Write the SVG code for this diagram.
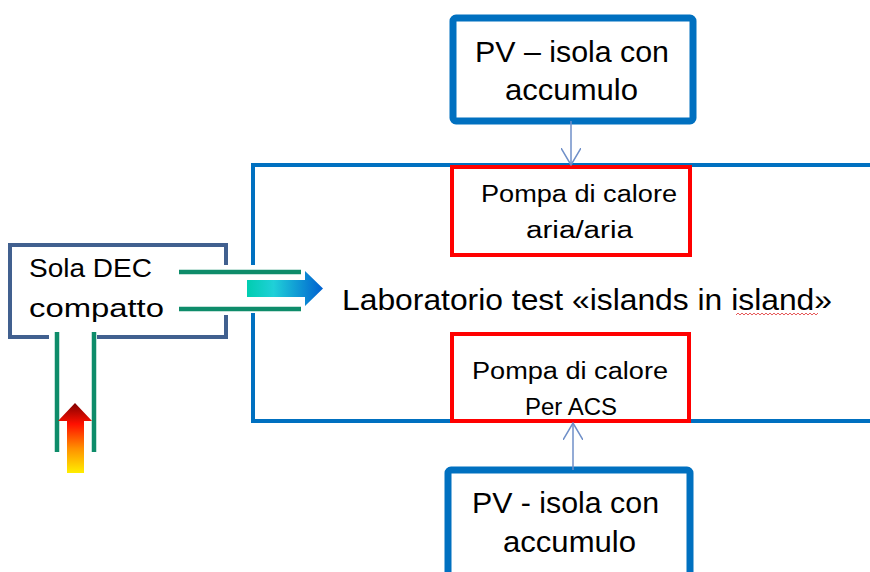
<svg xmlns="http://www.w3.org/2000/svg" width="870" height="572" viewBox="0 0 870 572">
<defs>
<linearGradient id="gBlue" x1="0" y1="0" x2="1" y2="0">
<stop offset="0" stop-color="#00CDB0"/>
<stop offset="0.35" stop-color="#20D0D8"/>
<stop offset="1" stop-color="#0060D0"/>
</linearGradient>
<linearGradient id="gHeat" x1="0" y1="1" x2="0" y2="0">
<stop offset="0" stop-color="#FFEE00"/>
<stop offset="0.35" stop-color="#FF9000"/>
<stop offset="0.7" stop-color="#FF1000"/>
<stop offset="1" stop-color="#800000"/>
</linearGradient>
<marker id="chev" viewBox="0 0 18 20" refX="17" refY="10" markerWidth="18" markerHeight="20" markerUnits="userSpaceOnUse" orient="auto-start-reverse">
<path d="M0,0 L17,10 L0,20" fill="none" stroke="#6F8FC8" stroke-width="1.5"/>
</marker>
</defs>
<style>
.t{font-family:"Liberation Sans",Arial,sans-serif;fill:#000}
.pv{fill:#fff;stroke:#0070C0;stroke-width:7}
.hp{fill:#fff;stroke:#FF0000;stroke-width:4}
.lab{fill:none;stroke:#0070C0;stroke-width:4}
.grn{stroke:#0E8C6A;stroke-width:4.5;fill:none}
.con{stroke:#6F8FC8;stroke-width:1.5;fill:none}
</style>
<rect width="870" height="572" fill="#fff"/>

<g id="lab">
<path class="lab" d="M870,165 L253,165 L253,265 M253,313 L253,421 L870,421"/>
<text class="t" x="342" y="310" font-size="29" textLength="490" lengthAdjust="spacingAndGlyphs">Laboratorio test «islands in island»</text>
<path d="M736,315 l2,-2 l2,2 l2,-2 l2,2 l2,-2 l2,2 l2,-2 l2,2 l2,-2 l2,2 l2,-2 l2,2 l2,-2 l2,2 l2,-2 l2,2 l2,-2 l2,2 l2,-2 l2,2 l2,-2 l2,2 l2,-2 l2,2 l2,-2 l2,2 l2,-2 l2,2 l2,-2 l2,2 l2,-2 l2,2 l2,-2 l2,2 l2,-2 l2,2 l2,-2 l2,2 l2,-2 l2,2 l2,-2" fill="none" stroke="#E03030" stroke-width="0.8"/>
</g>

<g id="pv-top">
<rect class="pv" x="453" y="18" width="240" height="103" rx="3"/>
<text class="t" x="475" y="62" font-size="30" textLength="194" lengthAdjust="spacingAndGlyphs">PV – isola con</text>
<text class="t" x="505" y="100" font-size="30" textLength="133" lengthAdjust="spacingAndGlyphs">accumulo</text>
</g>

<g id="pv-bottom">
<rect class="pv" x="448" y="470" width="242" height="110" rx="3"/>
<text class="t" x="472" y="513" font-size="30" textLength="187" lengthAdjust="spacingAndGlyphs">PV - isola con</text>
<text class="t" x="503" y="552" font-size="30" textLength="133" lengthAdjust="spacingAndGlyphs">accumulo</text>
</g>

<g id="hp-top">
<rect class="hp" x="452" y="167" width="238" height="88"/>
<text class="t" x="481" y="202" font-size="23" textLength="196" lengthAdjust="spacingAndGlyphs">Pompa di calore</text>
<text class="t" x="526" y="238" font-size="23" textLength="107" lengthAdjust="spacingAndGlyphs">aria/aria</text>
</g>

<g id="hp-bottom">
<rect class="hp" x="452" y="334" width="237" height="87"/>
<text class="t" x="472" y="379" font-size="23" textLength="196" lengthAdjust="spacingAndGlyphs">Pompa di calore</text>
<text class="t" x="525" y="415" font-size="23" textLength="92" lengthAdjust="spacingAndGlyphs">Per ACS</text>
</g>

<g id="sola-dec">
<path d="M226,265 L226,245 L10,245 L10,337 L49,337 M97,337 L226,337 L226,315" fill="none" stroke="#41608F" stroke-width="4"/>
<text class="t" x="29" y="277" font-size="26" textLength="123" lengthAdjust="spacingAndGlyphs">Sola DEC</text>
<text class="t" x="29" y="317" font-size="26" textLength="135" lengthAdjust="spacingAndGlyphs">compatto</text>
</g>

<g id="connectors">
<line class="con" x1="571" y1="121" x2="571" y2="165" marker-end="url(#chev)"/>
<line class="con" x1="573" y1="470" x2="573" y2="423" marker-end="url(#chev)"/>
<path class="grn" d="M179,272 L301,272 M179,309 L301,309 M57,332 L57,452 M94,332 L94,452"/>
<path d="M247,280 L305,280 L305,271 L323,288.5 L305,306 L305,297 L247,297 Z" fill="url(#gBlue)"/>
<path d="M67,473 L67,421 L58,421 L75,403 L92,421 L84,421 L84,473 Z" fill="url(#gHeat)"/>
</g>
</svg>
